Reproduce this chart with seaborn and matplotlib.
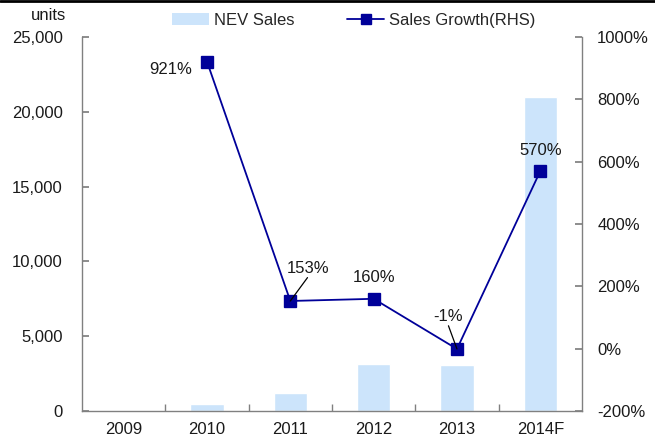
import matplotlib
matplotlib.use("Agg")
import matplotlib.pyplot as plt
from matplotlib.lines import Line2D
from matplotlib.patches import Patch
from matplotlib.ticker import FuncFormatter, FixedLocator
import seaborn as sns

# chart data
years = ["2009", "2010", "2011", "2012", "2013", "2014F"]
nev_sales = [20, 480, 1200, 3150, 3100, 21000]
growth_years = ["2010", "2011", "2012", "2013", "2014F"]
growth_pct = [921, 153, 160, -1, 570]
# label offsets in pixels (dx, dy) and whether a leader line is drawn
label_offsets = [(-36, -8), (18, 32), (0, 21), (-9, 32), (0, 21)]
label_leader = [False, True, False, True, False]

bar_color = "#cce4fb"
line_color = "#000099"
axis_color = "#808080"
text_color = "#1a1a1a"
fs = 12

sns.set_theme(style="white")
plt.rcParams["font.family"] = ["Liberation Sans", "DejaVu Sans"]
plt.rcParams["font.size"] = fs

fig = plt.figure(figsize=(6.55, 4.37), dpi=100)
ax = fig.add_axes([0.1252, 0.0595, 0.7633, 0.8558])
ax2 = ax.twinx()

sns.barplot(x=years, y=nev_sales, order=years, color=bar_color,
            width=0.4, saturation=1, ax=ax)
sns.pointplot(x=growth_years, y=growth_pct, order=years, ax=ax2,
              color=line_color, markers="s", markersize=8, linewidth=1.3,
              errorbar=None)

# left axis
ax.set_ylim(0, 25000)
ax.set_xlim(-0.5, len(years) - 0.5)
ax.yaxis.set_major_locator(FixedLocator(range(0, 25001, 5000)))
ax.yaxis.set_major_formatter(FuncFormatter(lambda v, p: f"{int(v):,}"))
ax.set_xlabel("")
ax.set_ylabel("")

# right axis
ax2.set_ylim(-200, 1000)
ax2.yaxis.set_major_locator(FixedLocator(range(-200, 1001, 200)))
ax2.yaxis.set_major_formatter(FuncFormatter(lambda v, p: f"{int(v)}%"))
ax2.set_xlabel("")
ax2.set_ylabel("")

# x ticks: labels at centres, tick marks between categories
ax.set_xticks(range(len(years)))
ax.set_xticklabels(years)
ax.set_xticks([i + 0.5 for i in range(len(years) - 1)], minor=True)
ax.tick_params(axis="x", which="major", length=0, pad=8,
               labelcolor=text_color, labelsize=fs)
ax.tick_params(axis="x", which="minor", length=5, direction="in",
               color=axis_color, bottom=True)
ax.tick_params(axis="y", length=5, direction="in", color=axis_color,
               labelcolor=text_color, labelsize=fs, pad=14, left=True)
ax2.tick_params(axis="y", length=5, direction="in", color=axis_color,
                labelcolor=text_color, labelsize=fs, pad=11, right=True)

for a in (ax, ax2):
    a.spines["top"].set_visible(False)
    for s in ("left", "right", "bottom"):
        a.spines[s].set_color(axis_color)
        a.spines[s].set_linewidth(1.0)
ax.spines["right"].set_visible(False)
ax2.spines["left"].set_visible(False)
ax2.spines["bottom"].set_visible(False)

# data labels
for yr, val, (dx, dy), lead in zip(growth_years, growth_pct,
                                   label_offsets, label_leader):
    xi = years.index(yr)
    props = None
    if lead:
        props = dict(arrowstyle="-", color="black", lw=0.9, patchA=None,
                     relpos=(0.5, 0.0), shrinkA=1, shrinkB=0)
    ax2.annotate(f"{val}%", xy=(xi, val), xytext=(dx, dy),
                 textcoords="offset pixels", ha="center", va="center",
                 fontsize=fs, color=text_color, arrowprops=props)

# legend and unit label
handles = [Patch(facecolor=bar_color, edgecolor="none", label="NEV Sales"),
           Line2D([0], [0], color=line_color, marker="s", markersize=7,
                  linewidth=1.3, label="Sales Growth(RHS)")]
fig.legend(handles=handles, loc="center", bbox_to_anchor=(0.54, 0.953),
           ncol=2, frameon=False, fontsize=fs, handlelength=2.2,
           handleheight=0.7, handletextpad=0.3, columnspacing=3.2)
fig.text(0.074, 0.965, "units", ha="center", va="center", fontsize=fs,
         color=text_color)

fig.add_artist(Line2D([0, 1], [0.997, 0.997], transform=fig.transFigure,
                      color="black", linewidth=2))

fig.savefig("out.png", dpi=100)
